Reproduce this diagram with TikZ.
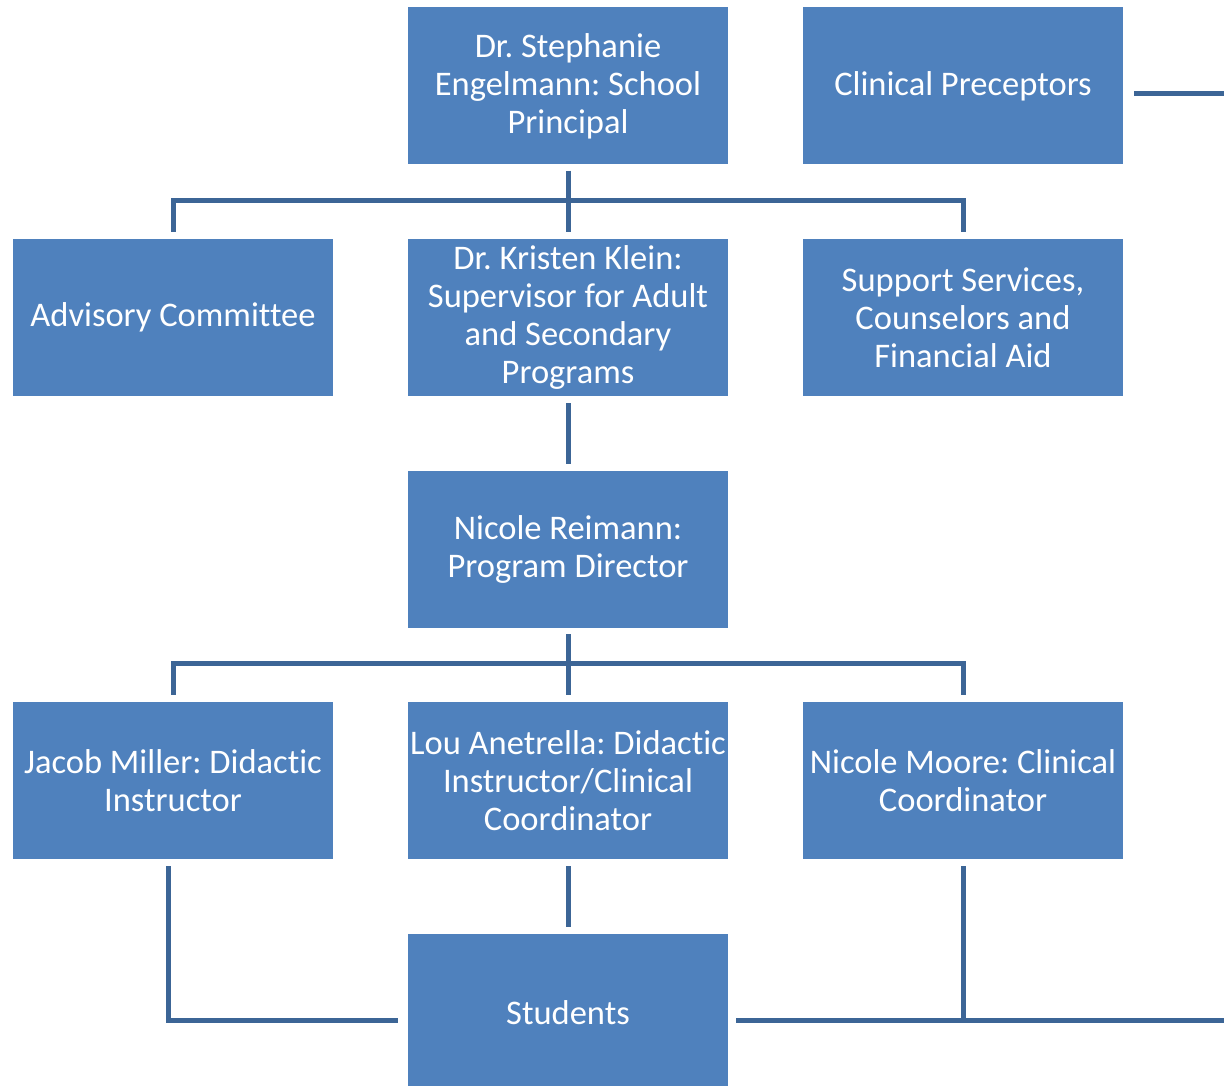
\documentclass[tikz,border=0pt]{standalone}
\usepackage{fontspec}
\setmainfont{Carlito}[Ligatures=NoCommon]
\frenchspacing
\definecolor{boxblue}{HTML}{4F81BD}
\definecolor{lineblue}{HTML}{3C6596}
\tikzset{
    orgbox/.style={fill=boxblue, text=white, align=center, minimum width=320pt,
        minimum height=157pt, inner sep=1pt, font=\fontsize{34.5}{38}\selectfont},
    link/.style={draw=lineblue, line width=5pt}
}
\begin{document}
\begin{tikzpicture}[x=1pt, y=-1pt]
    \useasboundingbox (0,0) rectangle (1224,1086);
    \clip (0,0) rectangle (1224,1086);
    \node[orgbox] (prin) at (568, 86) {Dr. Stephanie\\Engelmann: School\\Principal};
    \node[orgbox] (prec) at (963, 86) {Clinical Preceptors};
    \node[orgbox] (adv) at (173, 317.5) {Advisory Committee};
    \node[orgbox] (klein) at (568, 317.5) {Dr. Kristen Klein:\\Supervisor for Adult\\and Secondary\\Programs};
    \node[orgbox] (supp) at (963, 317.5) {Support Services,\\Counselors and\\Financial Aid};
    \node[orgbox] (dir) at (568, 549.5) {Nicole Reimann:\\Program Director};
    \node[orgbox] (jacob) at (173, 780.5) {Jacob Miller: Didactic\\Instructor};
    \node[orgbox] (lou) at (568, 780.5) {Lou Anetrella: Didactic\\Instructor/Clinical\\Coordinator};
    \node[orgbox] (moore) at (963, 780.5) {Nicole Moore: Clinical\\Coordinator};
    \node[orgbox] (stud) at (568, 1012.5) {Students};
    \coordinate (precend) at (1224, 94);
    \coordinate (studend) at (1224, 1020);
    
    %%%%%%%%%%%%%%%%%%%%%%%%%%%%%%%%%%%%%%%%
    
    \draw[link] ([yshift=-6]prin.south) -- ([yshift=7]klein.north);
    \draw[link] ([yshift=7]adv.north) -- ++(0,-31) -| ([yshift=7]supp.north);
    \draw[link] ([xshift=11,yshift=-8]prec.east) -- (precend);
    \draw[link] ([yshift=-7]klein.south) -- ([yshift=7]dir.north);
    \draw[link] ([yshift=-6]dir.south) -- ([yshift=7]lou.north);
    \draw[link] ([yshift=7]jacob.north) -- ++(0,-31) -| ([yshift=7]moore.north);
    \draw[link] ([yshift=-7]lou.south) -- ([yshift=7]stud.north);
    \draw[link] ([xshift=-5,yshift=-7]jacob.south) |- ([xshift=-10,yshift=-7.5]stud.west);
    \draw[link] ([xshift=8,yshift=-7.5]stud.east) -- (studend);
    \draw[link] ([yshift=-7]moore.south) -- ([yshift=-7.5]moore.south |- stud.east);
    
\end{tikzpicture}
\end{document}
